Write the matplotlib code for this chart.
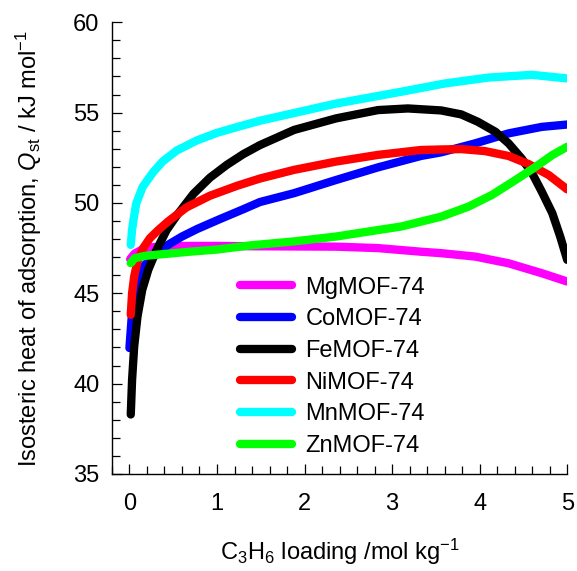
import matplotlib
matplotlib.use("Agg")
import matplotlib as mpl
import matplotlib.pyplot as plt

mpl.rcParams["font.family"] = ["Liberation Sans", "DejaVu Sans"]
mpl.rcParams["mathtext.fontset"] = "custom"
mpl.rcParams["mathtext.rm"] = "Liberation Sans"
mpl.rcParams["mathtext.it"] = "Liberation Sans:italic"

# C3H6 loading (mol/kg) and Qst (kJ/mol)
mg_x = [0.008, 0.06, 0.176, 0.37, 0.7, 1.0, 1.49, 2.36, 2.84, 3.33, 3.56,
        3.95, 4.33, 4.71, 5.0]
mg_q = [46.89, 47.2, 47.5, 47.6, 47.62, 47.62, 47.6, 47.58, 47.5, 47.3, 47.22,
        47.03, 46.66, 46.11, 45.65]

co_x = [0.0, 0.023, 0.054, 0.1, 0.176, 0.29, 0.44, 0.6, 0.77, 1.03, 1.3,
        1.49, 1.88, 2.36, 2.84, 3.33, 3.56, 3.95, 4.33, 4.71, 5.0]
co_q = [41.97, 43.5, 44.8, 45.8, 46.57, 47.1, 47.68, 48.14, 48.55, 49.1,
        49.65, 50.05, 50.54, 51.27, 51.97, 52.6, 52.8, 53.3, 53.85, 54.21,
        54.34]

fe_x = [0.015, 0.03, 0.054, 0.092, 0.146, 0.215, 0.31, 0.425, 0.54, 0.73,
        0.92, 1.11, 1.3, 1.49, 1.88, 2.36, 2.84, 3.18, 3.56, 3.79, 3.98, 4.18,
        4.33, 4.48, 4.6, 4.71, 4.83, 4.92, 5.0]
fe_q = [38.29, 40.2, 42.06, 43.72, 45.19, 46.3, 47.4, 48.5, 49.3, 50.5, 51.4,
        52.1, 52.7, 53.2, 54.04, 54.68, 55.14, 55.23, 55.12, 54.9, 54.49,
        53.94, 53.3, 52.46, 51.64, 50.62, 49.43, 48.14, 46.85]

ni_x = [0.015, 0.03, 0.054, 0.092, 0.157, 0.234, 0.33, 0.44, 0.65, 0.92,
        1.23, 1.49, 1.88, 2.36, 2.84, 3.33, 3.56, 3.79, 4.06, 4.33, 4.56,
        4.79, 5.0]
ni_q = [43.81, 45.0, 45.93, 46.76, 47.5, 48.05, 48.5, 48.97, 49.75, 50.4,
        50.95, 51.35, 51.83, 52.29, 52.66, 52.93, 52.96, 52.98, 52.87, 52.6,
        52.15, 51.54, 50.75]

mn_x = [0.015, 0.03, 0.046, 0.077, 0.15, 0.27, 0.38, 0.54, 0.77, 1.0, 1.23,
        1.49, 2.36, 3.1, 3.6, 4.1, 4.6, 5.0]
mn_q = [47.68, 48.51, 49.06, 49.96, 50.88, 51.7, 52.3, 52.9, 53.46, 53.88,
        54.2, 54.55, 55.5, 56.15, 56.61, 56.94, 57.09, 56.89]

zn_x = [0.015, 0.06, 0.176, 0.37, 0.71, 1.0, 1.38, 1.88, 2.36, 2.84, 3.1,
        3.56, 3.87, 4.14, 4.41, 4.64, 4.83, 5.0]
zn_q = [46.67, 46.94, 47.07, 47.16, 47.31, 47.42, 47.65, 47.87, 48.14, 48.5,
        48.69, 49.24, 49.79, 50.44, 51.27, 52.0, 52.65, 53.11]

series = [
    ("MgMOF-74", mg_x, mg_q, "#ff00ff"),
    ("CoMOF-74", co_x, co_q, "#0000ff"),
    ("FeMOF-74", fe_x, fe_q, "#000000"),
    ("NiMOF-74", ni_x, ni_q, "#ff0000"),
    ("MnMOF-74", mn_x, mn_q, "#00ffff"),
    ("ZnMOF-74", zn_x, zn_q, "#00ff00"),
]

fig = plt.figure(figsize=(5.77, 5.71), dpi=100)
ax = fig.add_axes([0.194, 0.170, 0.789, 0.791])

for name, x, q, c in series:
    ax.plot(x, q, color=c, lw=6, solid_capstyle="round",
            solid_joinstyle="round", label=name)

ax.set_xlim(-0.2, 5.0)
ax.set_ylim(35, 60)
ax.xaxis.set_major_locator(mpl.ticker.MultipleLocator(1))
ax.xaxis.set_minor_locator(mpl.ticker.MultipleLocator(0.2))
ax.yaxis.set_major_locator(mpl.ticker.MultipleLocator(5))
ax.yaxis.set_minor_locator(mpl.ticker.MultipleLocator(1))

for s in ("top", "right"):
    ax.spines[s].set_visible(False)
for s in ("left", "bottom"):
    ax.spines[s].set_linewidth(1.0)

ax.tick_params(which="major", direction="in", length=7, width=0.9,
               labelsize=17)
ax.tick_params(which="minor", direction="in", length=5.5, width=0.9)
ax.tick_params(axis="x", which="major", pad=14)
ax.tick_params(axis="y", which="major", pad=9)

ax.set_xlabel(r"C$_3$H$_6$ loading /mol kg$^{-1}$", fontsize=17)
ax.xaxis.set_label_coords(0.5, -0.14)
ax.set_ylabel(r"Isosteric heat of adsorption, $\mathit{Q}_{\rm st}$ / kJ mol$^{-1}$",
              fontsize=17)
ax.yaxis.set_label_coords(-0.15, 0.5)

ax.legend(loc="upper left", bbox_to_anchor=(0.281, 0.437), frameon=False,
          fontsize=17, handlelength=2.2, handletextpad=0.58,
          labelspacing=0.41, borderpad=0, borderaxespad=0)

fig.savefig("out.png", dpi=100)
